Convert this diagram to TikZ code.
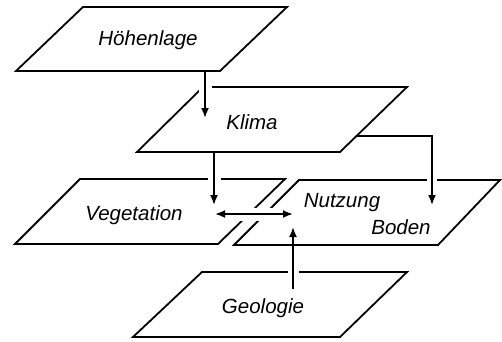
\documentclass[tikz,border=0pt]{standalone}
\usepackage{fontspec}
\setmainfont{Liberation Sans}
\usetikzlibrary{arrows.meta}
\begin{document}
\begin{tikzpicture}[x=1pt,y=-1pt,
  plane/.style={draw=black,line width=1.8pt,line join=miter},
  halo/.style={draw=white,line width=#1},
  tip/.style={},
  conn/.style={draw=black,line width=1.8pt,-{Latex[length=10pt,width=8pt]}},
  lbl/.style={font=\fontsize{20.5}{24}\selectfont\itshape,inner sep=0pt}]
\useasboundingbox (0,0) rectangle (502,341);
% planes
\draw[plane] (16,71) -- (220,71) -- (287,7) -- (83,7) -- cycle;
\draw[plane] (137,152) -- (340,152) -- (407,87) -- (203,87) -- cycle;
\draw[plane] (15,244) -- (218,244) -- (285,179) -- (80,179) -- cycle;
\draw[plane] (234,245) -- (438,245) -- (500,180) -- (299,180) -- cycle;
\draw[plane] (133,337) -- (340,337) -- (407,272) -- (202,272) -- cycle;
% labels
\node[lbl] (hoehe) at (148,40) {Höhenlage};
\node[lbl] (klima) at (252,122) {Klima};
\node[lbl] (veg) at (134,215) {Vegetation};
\node[lbl] (nutz) at (342,203) {Nutzung};
\node[lbl] (boden) at (401,227) {Boden};
\node[lbl] (geo) at (263,308) {Geologie};
% connector anchors
\coordinate (hB) at (205,71);
\coordinate (kT) at (205,118);
\coordinate (kB) at (214,152);
\coordinate (vT) at (214,205);
\coordinate (kR) at (356.5,136);
\coordinate (kC) at (432,136);
\coordinate (bT) at (432,205);
\coordinate (vR) at (215,214);
\coordinate (nL) at (293,214);
\coordinate (gS) at (293,289);
\coordinate (nB) at (293,227);
% halos
\draw[halo=13pt] (205,80) -- (205,96);
\draw[halo=13pt] (214,172) -- (214,186);
\draw[halo=10pt] (432,173) -- (432,187);
\draw[halo=13pt] (224,214) -- (286,214);
\draw[halo=11pt] (293,265) -- (293,279);
% connectors
\draw[conn] (hB) -- (kT);
\draw[conn] (kB) -- (vT);
\draw[conn] (kR) -- (kC) -- (bT);
\draw[conn,{Latex[length=10pt,width=8pt]}-{Latex[length=10pt,width=8pt]}] (vR) -- (nL);
\draw[conn] (gS) -- (nB);
\end{tikzpicture}
\end{document}
